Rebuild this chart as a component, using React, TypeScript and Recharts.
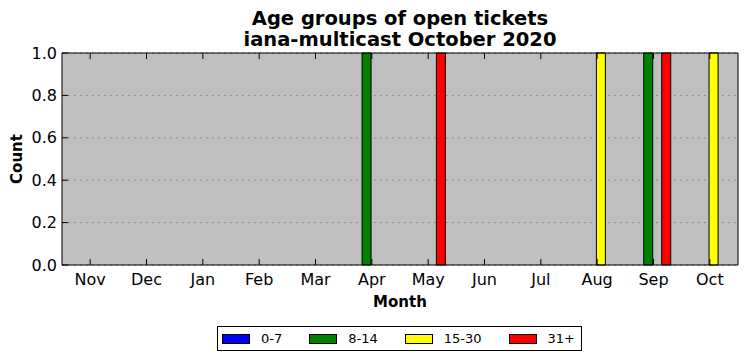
import { Bar, BarChart, CartesianGrid, Legend, XAxis, YAxis } from "recharts";

const months = ["Nov", "Dec", "Jan", "Feb", "Mar", "Apr", "May", "Jun", "Jul", "Aug", "Sep", "Oct"];
const age0to7 = [0, 0, 0, 0, 0, 0, 0, 0, 0, 0, 0, 0];
const age8to14 = [0, 0, 0, 0, 0, 1, 0, 0, 0, 0, 1, 0];
const age15to30 = [0, 0, 0, 0, 0, 0, 0, 0, 0, 1, 0, 1];
const age31plus = [0, 0, 0, 0, 0, 0, 1, 0, 0, 0, 1, 0];
const yTicks = [0, 0.2, 0.4, 0.6, 0.8, 1.0];

const seriesNames = ["0-7", "8-14", "15-30", "31+"];
const seriesColors = ["#0000ff", "#008000", "#ffff00", "#ff0000"];

const data = months.map((month, i) => ({
  month,
  "0-7": age0to7[i],
  "8-14": age8to14[i],
  "15-30": age15to30[i],
  "31+": age31plus[i],
}));

const FONT = "'DejaVu Sans', sans-serif";

const CountLabel = ({ viewBox }: any) => {
  const cy = viewBox.y + viewBox.height / 2;
  return (
    <text
      x={17}
      y={cy}
      transform={`rotate(-90, 17, ${cy})`}
      textAnchor="middle"
      dominantBaseline="central"
      fontFamily={FONT}
      fontSize={15}
      fontWeight="bold"
      fill="#000"
    >
      Count
    </text>
  );
};

const BoxLegend = () => (
  <div
    style={{
      boxSizing: "border-box",
      width: 365,
      height: 25,
      border: "1px solid #000",
      background: "#fff",
      display: "flex",
      alignItems: "center",
      paddingLeft: 4,
      fontFamily: FONT,
      fontSize: 13,
      whiteSpace: "nowrap",
    }}
  >
    {seriesNames.map((name, i) => (
      <div key={name} style={{ display: "flex", alignItems: "center", marginRight: 27, flexShrink: 0 }}>
        <span
          style={{
            boxSizing: "border-box",
            width: 28,
            height: 10,
            background: seriesColors[i],
            border: "1px solid #000",
            marginRight: 11,
            flexShrink: 0,
          }}
        />
        <span>{name}</span>
      </div>
    ))}
  </div>
);

export default function App() {
  return (
    <div style={{ position: "absolute", left: 0, top: 0, width: 746, height: 361, background: "#fff" }}>
      <div
        style={{
          position: "absolute",
          left: 0,
          top: 8,
          width: 800,
          textAlign: "center",
          fontFamily: FONT,
          fontWeight: "bold",
          fontSize: 19.5,
          lineHeight: "21px",
        }}
      >
        Age groups of open tickets
        <br />
        iana-multicast October 2020
      </div>
      <BarChart
        width={746}
        height={361}
        data={data}
        margin={{ top: 52, right: 7, left: 0, bottom: 0 }}
        barCategoryGap="16.67%"
        barGap={0}
        style={{ position: "absolute", left: 0, top: 0 }}
      >
        <CartesianGrid
          vertical={false}
          fill="#bfbfbf"
          stroke="#808080"
          strokeDasharray="1.5 4.5"
          horizontalValues={yTicks}
        />
        <XAxis
          dataKey="month"
          height={96}
          axisLine={{ stroke: "#000" }}
          tickLine={{ stroke: "#000" }}
          tickSize={-6}
          tickMargin={15}
          interval={0}
          tick={{ fill: "#000", fontFamily: FONT, fontSize: 16 }}
          label={{
            value: "Month",
            position: "insideTop",
            offset: 31,
            style: { fontFamily: FONT, fontSize: 15, fontWeight: "bold", fill: "#000" },
          }}
        />
        <XAxis
          xAxisId="top"
          dataKey="month"
          orientation="top"
          height={1}
          axisLine={{ stroke: "#000" }}
          tickLine={{ stroke: "#000" }}
          tickSize={-6}
          interval={0}
          tick={() => <g />}
        />
        <YAxis
          width={62}
          domain={[0, 1]}
          ticks={yTicks}
          axisLine={{ stroke: "#000" }}
          tickLine={{ stroke: "#000" }}
          tickSize={-6}
          tickMargin={11}
          tickFormatter={(v: number) => v.toFixed(1)}
          tick={{ fill: "#000", fontFamily: FONT, fontSize: 16 }}
          label={<CountLabel />}
        />
        <YAxis
          yAxisId="right"
          orientation="right"
          width={1}
          domain={[0, 1]}
          ticks={yTicks}
          axisLine={{ stroke: "#000" }}
          tickLine={{ stroke: "#000" }}
          tickSize={-6}
          tick={() => <g />}
        />
        <Legend
          layout="horizontal"
          verticalAlign="middle"
          align="center"
          content={<BoxLegend />}
          wrapperStyle={{ left: 217, top: 326, width: 365, height: 25 }}
        />
        {seriesNames.map((name, i) => (
          <Bar
            key={name}
            dataKey={name}
            fill={seriesColors[i]}
            stroke="#000"
            strokeWidth={1}
            isAnimationActive={false}
          />
        ))}
      </BarChart>
    </div>
  );
}
